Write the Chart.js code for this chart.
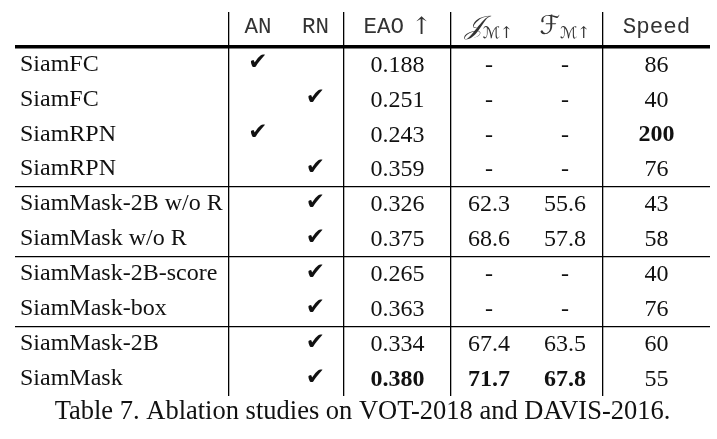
<!DOCTYPE html>
<html lang="en">
<head>
<meta charset="UTF-8">
<title>Table 7. Ablation studies on VOT-2018 and DAVIS-2016</title>
<script src="https://cdn.jsdelivr.net/npm/chart.js"></script>
<style>
    body { margin: 0; background: #fff; }
</style>
</head>
<body>
<canvas id="tbl" width="717" height="439"></canvas>
<script>
    // table content
    const methods = ['SiamFC', 'SiamFC', 'SiamRPN', 'SiamRPN', 'SiamMask-2B w/o R', 'SiamMask w/o R',
        'SiamMask-2B-score', 'SiamMask-box', 'SiamMask-2B', 'SiamMask'];
    const anCheck = [true, false, true, false, false, false, false, false, false, false];
    const rnCheck = [false, true, false, true, true, true, true, true, true, true];
    const eao = [0.188, 0.251, 0.243, 0.359, 0.326, 0.375, 0.265, 0.363, 0.334, 0.380];
    const jm = [null, null, null, null, 62.3, 68.6, null, null, 67.4, 71.7];
    const fm = [null, null, null, null, 55.6, 57.8, null, null, 63.5, 67.8];
    const speed = [86, 40, 200, 76, 43, 58, 40, 76, 60, 55];
    const groupStarts = [4, 6, 8];   // first row of each new block (thin rule above)
    const caption = 'Table 7. Ablation studies on VOT-2018 and DAVIS-2016.';

    // column widths: name, AN, RN, EAO, J, F, Speed
    const colWidths = [214, 58, 57, 107, 76, 76, 107];
    const colEdges = colWidths.reduce((a, w) => { a.push(a[a.length - 1] + w); return a; }, [0]);
    const colMid = i => (colEdges[i] + colEdges[i + 1]) / 2;
    const ruledEdges = [1, 3, 4, 6];

    const serif = 'Liberation Serif, Times New Roman, serif';
    const mono = 'Liberation Mono, Courier New, monospace';
    const math = 'DejaVu Serif, DejaVu Sans, serif';

    const best = arr => Math.max(...arr.filter(v => v != null));

    // y is the category index (row 0 is the header)
    function column(col, values, fmt, boldMax) {
        const top = boldMax ? best(values) : null;
        return values.map((v, r) => ({
            x: colMid(col),
            y: r + 1,
            text: fmt(v),
            bold: boldMax && v === top
        }));
    }

    const checkFmt = v => v ? '✔' : '';
    const dash = d => v => v == null ? '-' : v.toFixed(d);

    const datasets = [
        {label: 'AN', data: column(1, anCheck, checkFmt, false), kind: 'check'},
        {label: 'RN', data: column(2, rnCheck, checkFmt, false), kind: 'check'},
        {label: 'EAO', data: column(3, eao, dash(3), true)},
        {label: 'JM', data: column(4, jm, dash(1), true)},
        {label: 'FM', data: column(5, fm, dash(1), true)},
        {label: 'Speed', data: column(6, speed, v => String(v), true)}
    ];

    // header cells: runs of text with their own fonts
    const headerRuns = [
        [{t: 'AN', f: '22.5px ' + mono}],
        [{t: 'RN', f: '22.5px ' + mono}],
        [{t: 'EAO', f: '22.5px ' + mono}, {t: ' ↑', f: '24px ' + math}],
        [{t: '𝒥', f: 'italic 26px ' + math}, {t: 'ℳ↑', f: '16px ' + math, dy: 6}],
        [{t: 'ℱ', f: 'italic 26px ' + math}, {t: 'ℳ↑', f: '16px ' + math, dy: 6}],
        [{t: 'Speed', f: '22.5px ' + mono}]
    ];

    const cellText = {
        id: 'cellText',
        afterDatasetsDraw(chart) {
            const ctx = chart.ctx;
            const xs = chart.scales.x, ys = chart.scales.y;
            ctx.save();
            ctx.textBaseline = 'middle';
            ctx.fillStyle = '#111';

            chart.data.datasets.forEach((ds, i) => {
                chart.getDatasetMeta(i).data.forEach((el, j) => {
                    const raw = ds.data[j];
                    if (!raw.text) return;
                    ctx.textAlign = 'center';
                    if (ds.kind === 'check') {
                        ctx.font = '23px DejaVu Sans';
                        ctx.fillText(raw.text, el.x, el.y - 1);
                    } else {
                        ctx.font = (raw.bold ? 'bold ' : '') + '24px ' + serif;
                        ctx.fillText(raw.text, el.x, el.y + 1);
                    }
                });
            });

            // header row
            const hy = ys.getPixelForValue(0) - 2;
            ctx.textAlign = 'left';
            ctx.fillStyle = '#333';
            headerRuns.forEach((runs, c) => {
                let w = 0;
                runs.forEach(r => { ctx.font = r.f; w += ctx.measureText(r.t).width; });
                let x = xs.getPixelForValue(colMid(c + 1)) - w / 2;
                runs.forEach(r => {
                    ctx.font = r.f;
                    ctx.fillText(r.t, x, hy + (r.dy || 0));
                    x += ctx.measureText(r.t).width;
                });
            });
            ctx.restore();
        }
    };

    new Chart(document.getElementById('tbl'), {
        type: 'scatter',
        data: {labels: [''].concat(methods), datasets: datasets},
        options: {
            responsive: false,
            animation: false,
            events: [],
            parsing: false,
            layout: {padding: {left: 15, right: 7, top: 12, bottom: 11}},
            elements: {point: {radius: 0, hoverRadius: 0}},
            plugins: {
                legend: {display: false},
                tooltip: {enabled: false},
                title: {
                    display: true,
                    position: 'bottom',
                    text: caption,
                    color: '#111',
                    font: {family: serif, size: 26.5, weight: 'normal'},
                    padding: {top: 0, bottom: 0}
                }
            },
            scales: {
                x: {
                    type: 'linear',
                    min: 0,
                    max: colEdges[colEdges.length - 1],
                    border: {display: false},
                    ticks: {display: false},
                    grid: {color: '#000', lineWidth: 1.3, drawTicks: false},
                    afterBuildTicks: s => { s.ticks = ruledEdges.map(i => ({value: colEdges[i]})); },
                    afterFit: s => { s.height = 0; }
                },
                y: {
                    type: 'category',
                    offset: true,
                    border: {display: false},
                    grid: {
                        offset: true,
                        drawTicks: false,
                        color: c => (c.index === 1 || groupStarts.includes(c.index - 1)) ? '#000' : 'transparent',
                        lineWidth: c => c.index === 1 ? 3.5 : 1.3
                    },
                    ticks: {
                        mirror: true,
                        padding: 5,
                        color: '#111',
                        font: {family: serif, size: 24, lineHeight: 0.4},
                        autoSkip: false
                    },
                    afterFit: s => { s.width = 0; }
                }
            }
        },
        plugins: [cellText]
    });
</script>
</body>
</html>
